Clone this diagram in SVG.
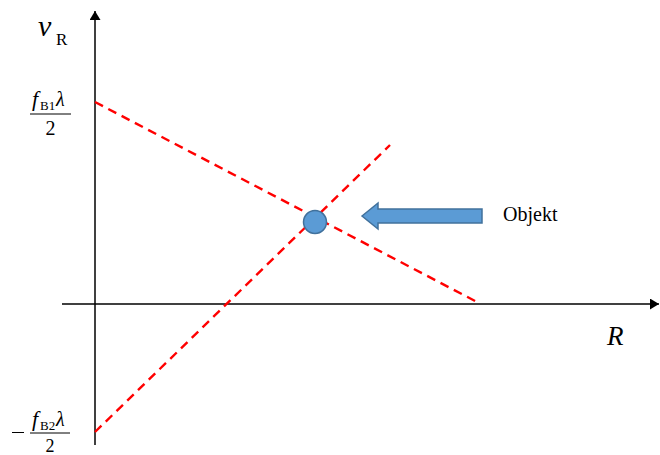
<svg xmlns="http://www.w3.org/2000/svg" width="660" height="455" viewBox="0 0 660 455">
<defs>
<style>
.axis{stroke:#000;stroke-width:1.5;fill:none}
.red{stroke:#ff0000;stroke-width:2.4;stroke-dasharray:9 6;fill:none}
text{font-family:'Liberation Serif','DejaVu Serif',serif;fill:#000}
</style>
<marker id="ah" viewBox="0 0 10 10" refX="10" refY="5" markerWidth="9" markerHeight="11" markerUnits="userSpaceOnUse" orient="auto" preserveAspectRatio="none">
<path d="M0,0 L10,5 L0,10 z" fill="#000"/>
</marker>
</defs>
<rect width="660" height="455" fill="#fff"/>
<g id="connectors">
<line class="axis" x1="95" y1="445" x2="95" y2="11" marker-end="url(#ah)"/>
<line class="axis" x1="62" y1="304" x2="659" y2="304" marker-end="url(#ah)"/>
<line class="red" x1="95" y1="102" x2="477" y2="302"/>
<line class="red" x1="95" y1="432" x2="390" y2="145"/>
</g>
<g id="label-vR">
<text x="38" y="36" font-size="30" font-style="italic">v</text>
<text x="56" y="45" font-size="17">R</text>
</g>
<g id="label-fB1">
<text x="32" y="106" font-size="22" font-style="italic">f</text>
<text x="40" y="110" font-size="13">B1</text>
<text x="56" y="106" font-size="20" font-style="italic">λ</text>
<line x1="30" y1="114" x2="71" y2="114" stroke="#000" stroke-width="1"/>
<text x="50.5" y="135" font-size="20" text-anchor="middle">2</text>
</g>
<g id="label-fB2">
<line x1="12" y1="432.5" x2="24" y2="432.5" stroke="#000" stroke-width="1"/>
<text x="32" y="426" font-size="22" font-style="italic">f</text>
<text x="40" y="430" font-size="13">B2</text>
<text x="56" y="426" font-size="20" font-style="italic">λ</text>
<line x1="30" y1="433" x2="70" y2="433" stroke="#000" stroke-width="1"/>
<text x="50" y="452" font-size="18" text-anchor="middle">2</text>
</g>
<g id="label-R">
<text x="607" y="345" font-size="27" font-style="italic">R</text>
</g>
<g id="object">
<circle cx="315" cy="222" r="11.5" fill="#5b9bd5" stroke="#41719c" stroke-width="1.5"/>
</g>
<g id="arrow">
<path d="M362,216 L378,203 L378,209 L482,209 L482,223 L378,223 L378,229 Z" fill="#5b9bd5" stroke="#41719c" stroke-width="1.5" stroke-linejoin="miter"/>
</g>
<g id="label-objekt">
<text x="503" y="221" font-size="20">Objekt</text>
</g>
</svg>
